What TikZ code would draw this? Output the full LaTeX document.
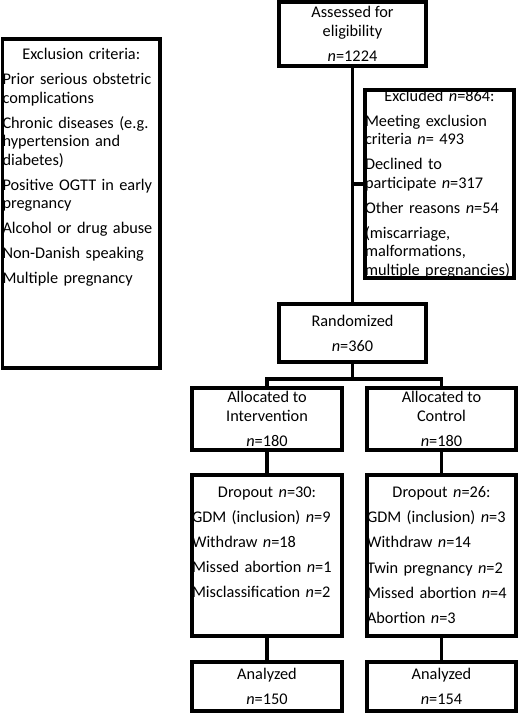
\documentclass[tikz,border=0pt]{standalone}
\usepackage{fontspec}
\setmainfont{Carlito}
\usetikzlibrary{positioning}

\begin{document}
\begin{tikzpicture}[x=1pt, y=1pt,
    box/.style={rectangle, draw=black, line width=3.5pt, inner sep=0pt, align=center,
                font=\fontsize{16.3}{18.5}\selectfont},
    frame/.style={rectangle, draw=black, line width=3.5pt, inner sep=0pt},
    listtext/.style={inner sep=0pt, anchor=north, align=left,
                font=\fontsize{16.3}{18.5}\selectfont},
    conn/.style={line width=3.5pt},
]
    \useasboundingbox (0,0) rectangle (520,-715);
    % Main column
    \node[box, minimum width=147pt, minimum height=64pt] (assess) at (352.5,-34)
        {Assessed for\\eligibility\\[6.5pt]\textit{n}=1224};
    \node[box, minimum width=147pt, minimum height=58pt] (rand) at (352.5,-333)
        {Randomized\\[6.5pt]\textit{n}=360};
    % Exclusion criteria (left)
    \node[frame, minimum width=157.5pt, minimum height=329pt] (crit) at (81.25,-203.5) {};
    \node[listtext, text width=157.5pt, below=11pt of crit.north] (crittext)
        {\makebox[\hsize]{Exclusion criteria:}\\[6.5pt]
         Prior serious obstetric\\complications\\[6.5pt]
         Chronic diseases (e.g.\\hypertension and\\diabetes)\\[6.5pt]
         Positive OGTT in early\\pregnancy\\[6.5pt]
         Alcohol or drug abuse\\[6.5pt]
         Non-Danish speaking\\[6.5pt]
         Multiple pregnancy};
    % Excluded (right)
    \node[frame, minimum width=149pt, minimum height=188pt] (excl) at (439.5,-184) {};
    \node[listtext, text width=149pt, below=1.5pt of excl.north] (excltext)
        {\makebox[\hsize]{Excluded \textit{n}=864:}\\[6.5pt]
         Meeting exclusion\\criteria \textit{n}= 493\\[6.5pt]
         Declined to\\participate \textit{n}=317\\[6.5pt]
         Other reasons \textit{n}=54\\[6.5pt]
         (miscarriage,\\malformations,\\multiple pregnancies)};
    % Allocation
    \node[box, minimum width=150pt, minimum height=62pt] (allocI) at (267,-419)
        {Allocated to\\Intervention\\[6.5pt]\textit{n}=180};
    \node[box, minimum width=149pt, minimum height=62pt] (allocC) at (441.5,-419)
        {Allocated to\\Control\\[6.5pt]\textit{n}=180};
    % Dropout
    \node[frame, minimum width=150pt, minimum height=161pt] (dropI) at (267,-555.5) {};
    \node[listtext, text width=150pt, below=13pt of dropI.north] (dropItext)
        {\makebox[\hsize]{Dropout \textit{n}=30:}\\[6.7pt]
         GDM (inclusion) \textit{n}=9\\[6.7pt]
         Withdraw \textit{n}=18\\[6.7pt]
         Missed abortion \textit{n}=1\\[6.7pt]
         Misclassification \textit{n}=2};
    \node[frame, minimum width=149pt, minimum height=161pt] (dropC) at (441.5,-555.5) {};
    \node[listtext, text width=149pt, below=13pt of dropC.north] (dropCtext)
        {\makebox[\hsize]{Dropout \textit{n}=26:}\\[6.7pt]
         GDM (inclusion) \textit{n}=3\\[6.7pt]
         Withdraw \textit{n}=14\\[6.7pt]
         Twin pregnancy \textit{n}=2\\[6.7pt]
         Missed abortion \textit{n}=4\\[6.7pt]
         Abortion \textit{n}=3};
    % Analysis
    \node[box, minimum width=150pt, minimum height=49pt] (anaI) at (267,-686.5)
        {Analyzed\\[6.5pt]\textit{n}=150};
    \node[box, minimum width=149pt, minimum height=49pt] (anaC) at (441.5,-686.5)
        {Analyzed\\[6.5pt]\textit{n}=154};
    % Connectors
    \draw[conn] (assess.south) -- (rand.north);
    \draw[conn] (assess.south |- excl.west) -- (excl.west);
    \draw[conn] (rand.south) -- ++(0,-15) coordinate (split);
    \draw[conn] (allocI.north) |- (split) -| (allocC.north);
    \draw[conn] (allocI.south) -- (dropI.north);
    \draw[conn] (allocC.south) -- (dropC.north);
    \draw[conn] (dropI.south) -- (anaI.north);
    \draw[conn] (dropC.south) -- (anaC.north);
\end{tikzpicture}
\end{document}
